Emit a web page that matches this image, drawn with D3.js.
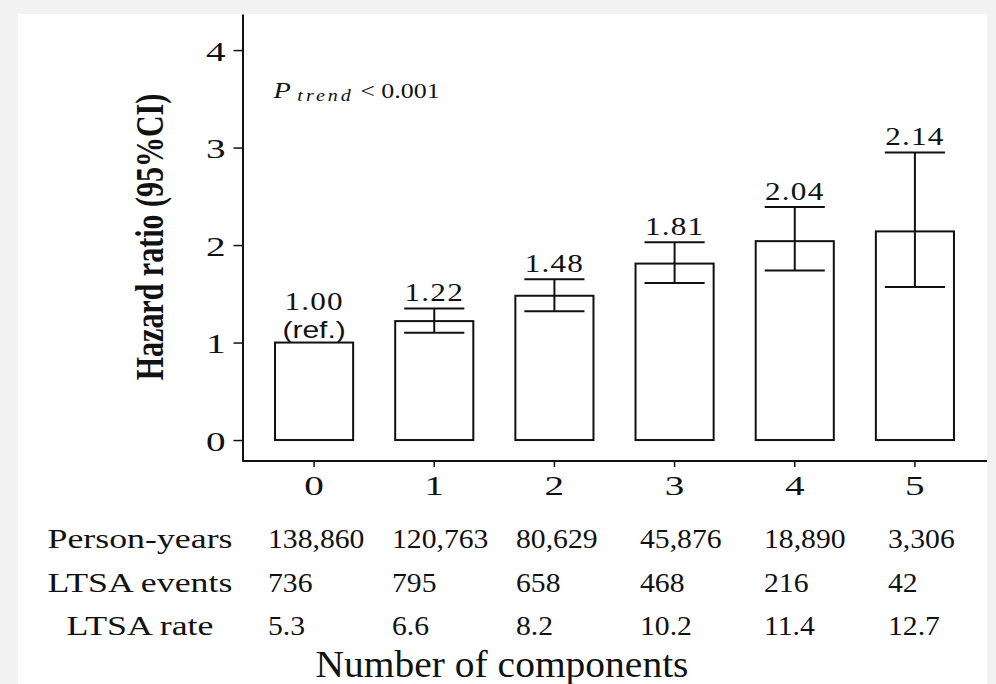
<!DOCTYPE html>
<html>
<head>
<meta charset="utf-8">
<script src="https://cdn.jsdelivr.net/npm/d3@7"></script>
<style>body{margin:0;background:#f2f2f2}</style>
</head>
<body>
<svg id="chart"></svg>
<script>
const categories = ['0', '1', '2', '3', '4', '5']
const hazard = [1.00, 1.22, 1.48, 1.81, 2.04, 2.14]
const ciLow = [null, 1.10, 1.32, 1.61, 1.74, 1.57]
const ciHigh = [null, 1.35, 1.65, 2.03, 2.39, 2.95]
const hazardLabels = ['1.00', '1.22', '1.48', '1.81', '2.04', '2.14']
const yTicks = [0, 1, 2, 3, 4]
const rowLabels = ['Person-years', 'LTSA events', 'LTSA rate']
const personYears = ['138,860', '120,763', '80,629', '45,876', '18,890', '3,306']
const ltsaEvents = ['736', '795', '658', '468', '216', '42']
const ltsaRate = ['5.3', '6.6', '8.2', '10.2', '11.4', '12.7']
const xTitle = 'Number of components'
const yTitle = 'Hazard ratio (95%CI)'

const W = 996, H = 684
const serif = '"Liberation Serif","Times New Roman",serif'
const sans = '"Liberation Sans",Arial,sans-serif'
const ink = '#111'

const svg = d3.select('#chart').attr('width', W).attr('height', H)
svg.append('rect').attr('width', W).attr('height', H).attr('fill', '#f2f2f2')
svg.append('rect').attr('x', 18).attr('y', 14).attr('width', 969).attr('height', H - 14).attr('fill', '#fff')

const y = d3.scaleLinear().domain([-0.215, 4.37]).range([461, 14])
const x = d3.scaleBand().domain(categories).range([254, 975]).paddingInner(0.35).paddingOuter(0.175)
const axisX = 242.5, panelRight = 987
const cx = c => x(c) + x.bandwidth() / 2

// text in the picture is a bit wider than the font, so stretch it
const label = (g, px, py, str, size, sx, opts = {}) => g.append('text')
    .attr('transform', `translate(${px},${py}) scale(${sx},1)`)
    .attr('text-anchor', opts.anchor || 'middle')
    .attr('font-family', opts.family || serif)
    .attr('font-size', size)
    .attr('font-weight', opts.weight || 'normal')
    .attr('letter-spacing', opts.spacing || 0)
    .attr('fill', ink)
    .text(str)

// y axis
const gy = svg.append('g').attr('transform', `translate(${axisX},0)`)
    .call(d3.axisLeft(y).tickValues(yTicks).tickFormat(d3.format('d')).tickSize(9).tickSizeOuter(0))
gy.select('.domain').attr('stroke', ink).attr('stroke-width', 2)
gy.selectAll('.tick line').attr('stroke', ink).attr('stroke-width', 1.5)
gy.selectAll('.tick text')
    .attr('x', null).attr('dy', null)
    .attr('transform', 'translate(-17,10) scale(1.4,1)')
    .attr('font-family', serif).attr('font-size', 28).attr('fill', ink)

// x axis
const gx = svg.append('g').attr('transform', `translate(0,${y.range()[0]})`)
    .call(d3.axisBottom(x).tickSize(6).tickSizeOuter(0))
gx.select('.domain').remove()
gx.append('line').attr('x1', axisX).attr('x2', panelRight).attr('stroke', ink).attr('stroke-width', 2)
gx.selectAll('.tick line').attr('stroke', ink).attr('stroke-width', 1.5)
gx.selectAll('.tick text')
    .attr('y', null).attr('dy', null)
    .attr('transform', 'translate(0,34) scale(1.4,1)')
    .attr('font-family', serif).attr('font-size', 28).attr('fill', ink)

// bars
svg.append('g').selectAll('rect').data(categories).enter()
    .append('rect')
    .attr('x', c => x(c))
    .attr('y', (c, i) => y(hazard[i]))
    .attr('width', x.bandwidth())
    .attr('height', (c, i) => y(0) - y(hazard[i]))
    .attr('fill', '#fff')
    .attr('stroke', ink)
    .attr('stroke-width', 2)

// error bars
const cap = x.bandwidth() * 0.385
const err = svg.append('g').attr('stroke', ink).attr('stroke-width', 2)
categories.forEach((c, i) => {
    if (ciLow[i] == null) return
    err.append('line').attr('x1', cx(c)).attr('x2', cx(c)).attr('y1', y(ciLow[i])).attr('y2', y(ciHigh[i]))
    ;[ciLow[i], ciHigh[i]].forEach(v => {
        err.append('line').attr('x1', cx(c) - cap).attr('x2', cx(c) + cap).attr('y1', y(v)).attr('y2', y(v))
    })
})

// value labels
const vl = svg.append('g')
categories.forEach((c, i) => {
    if (ciHigh[i] == null) {
        label(vl, cx(c), y(hazard[i]) - 33, hazardLabels[i], 26, 1.2, { spacing: 1 })
        label(vl, cx(c), y(hazard[i]) - 5, '(ref.)', 24, 1.25, { family: sans })
    } else {
        label(vl, cx(c), y(ciHigh[i]) - 7, hazardLabels[i], 26, 1.2, { spacing: 1 })
    }
})

// p trend
const pt = svg.append('text')
    .attr('transform', `translate(${axisX + 31},98) scale(1.18,1)`)
    .attr('font-family', serif).attr('font-size', 22).attr('fill', ink)
pt.append('tspan').attr('font-style', 'italic').attr('font-size', 24).text('P ')
pt.append('tspan').attr('font-style', 'italic').attr('font-size', 17).attr('letter-spacing', 2.5).attr('dy', 3).text('trend')
pt.append('tspan').attr('dy', -3).text(' < 0.001')

// y title
svg.append('text')
    .attr('transform', `translate(163,237) scale(1.3,1) rotate(-90)`)
    .attr('text-anchor', 'middle')
    .attr('font-family', serif).attr('font-size', 30).attr('font-weight', 'bold').attr('fill', ink)
    .text(yTitle)

// table under the axis
const col = d3.scalePoint().domain(categories).range([268, 888])
const rows = [personYears, ltsaEvents, ltsaRate]
const rowY = d3.scalePoint().domain(rowLabels).range([548, 635])
const tb = svg.append('g')
rowLabels.forEach((r, k) => {
    label(tb, 140, rowY(r), r, 28, 1.28)
    rows[k].forEach((v, i) => label(tb, col(categories[i]), rowY(r), v, 28, 1.06, { anchor: 'start' }))
})

label(svg, W / 2 + 4, 677, xTitle, 38, 1.04)
</script>
</body>
</html>
